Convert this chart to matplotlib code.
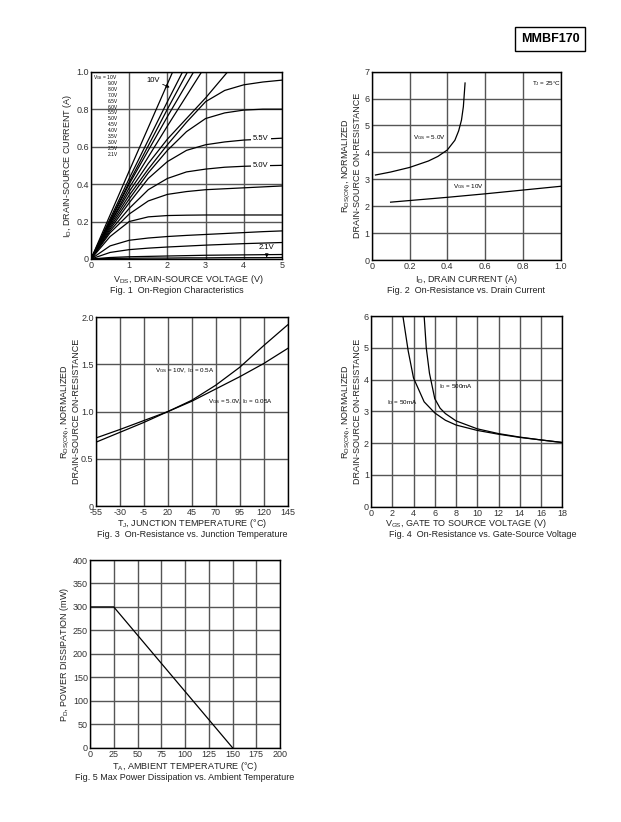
import matplotlib
matplotlib.use('Agg')
import matplotlib.pyplot as plt

plt.rcParams['font.family'] = ['Liberation Sans', 'DejaVu Sans']
plt.rcParams['mathtext.default'] = 'regular'
plt.rcParams['axes.unicode_minus'] = False

W, H = 621, 822

# ---- Fig 1 data: on-region characteristics (VDS, ID) per curve ----
vgs_legend = ["10V", "9.0V", "8.0V", "7.0V", "6.5V", "6.0V", "5.5V", "5.0V",
              "4.5V", "4.0V", "3.5V", "3.0V", "2.5V", "2.1V"]
fig1_vds = [
    [0, 1.0, 2.0, 2.14],
    [0, 1.0, 2.0, 2.40],
    [0, 1.0, 2.0, 2.53],
    [0, 1.0, 2.0, 2.69],
    [0, 1.0, 2.0, 2.90],
    [0, 0.5, 1.0, 1.5, 2.0, 2.5, 3.0, 3.58],
    [0, 0.5, 1.0, 1.5, 2.0, 2.5, 3.0, 3.5, 4.0, 4.5, 5.0],
    [0, 0.5, 1.0, 1.5, 2.0, 2.5, 3.0, 3.5, 4.0, 4.5, 5.0],
    [0, 0.5, 1.0, 1.5, 2.0, 2.5, 3.0, 3.5, 4.0, 4.5, 5.0],
    [0, 0.5, 1.0, 1.5, 2.0, 2.5, 3.0, 3.5, 4.0, 4.5, 5.0],
    [0, 0.5, 1.0, 1.5, 2.0, 2.5, 3.0, 3.5, 4.0, 4.5, 5.0],
    [0, 0.5, 1.0, 1.5, 2.0, 2.5, 3.0, 3.5, 4.0, 4.5, 5.0],
    [0, 0.5, 1.0, 1.5, 2.0, 2.5, 3.0, 3.5, 4.0, 4.5, 5.0],
    [0, 0.5, 1.0, 1.5, 2.0, 2.5, 3.0, 3.5, 4.0, 4.5, 5.0],
    [0, 0.5, 1.0, 1.5, 2.0, 2.5, 3.0, 3.5, 4.0, 4.5, 5.0],
    [0, 0.5, 1.0, 1.5, 2.0, 2.5, 3.0, 3.5, 4.0, 4.5, 5.0],
]
fig1_id = [
    [0, 0.47, 0.935, 1.0],
    [0, 0.43, 0.84, 1.0],
    [0, 0.41, 0.80, 1.0],
    [0, 0.40, 0.76, 1.0],
    [0, 0.38, 0.71, 1.0],
    [0, 0.19, 0.36, 0.51, 0.64, 0.75, 0.86, 1.0],
    [0, 0.18, 0.34, 0.48, 0.61, 0.73, 0.84, 0.90, 0.93, 0.945, 0.955],
    [0, 0.17, 0.32, 0.46, 0.58, 0.68, 0.75, 0.78, 0.795, 0.80, 0.80],
    [0, 0.16, 0.30, 0.43, 0.52, 0.58, 0.61, 0.625, 0.635, 0.64, 0.645],
    [0, 0.15, 0.27, 0.37, 0.43, 0.465, 0.48, 0.49, 0.495, 0.498, 0.50],
    [0, 0.14, 0.24, 0.31, 0.345, 0.36, 0.37, 0.375, 0.38, 0.385, 0.39],
    [0, 0.12, 0.20, 0.225, 0.232, 0.234, 0.235, 0.235, 0.235, 0.235, 0.235],
    [0, 0.07, 0.10, 0.112, 0.12, 0.126, 0.131, 0.136, 0.141, 0.146, 0.15],
    [0, 0.035, 0.05, 0.058, 0.064, 0.069, 0.074, 0.078, 0.082, 0.085, 0.088],
    [0, 0.008, 0.012, 0.014, 0.016, 0.018, 0.020, 0.021, 0.022, 0.023, 0.024],
    [0, 0.003, 0.004, 0.005, 0.005, 0.006, 0.006, 0.007, 0.007, 0.007, 0.008],
]

# ---- Fig 2 data: on-resistance vs drain current ----
fig2_id_5v = [0.02, 0.1, 0.2, 0.3, 0.35, 0.4, 0.44, 0.46, 0.475, 0.485, 0.494]
fig2_r_5v = [3.16, 3.27, 3.44, 3.68, 3.85, 4.09, 4.45, 4.8, 5.2, 5.7, 6.58]
fig2_id_10v = [0.1, 0.4, 0.6, 0.8, 1.0]
fig2_r_10v = [2.15, 2.33, 2.46, 2.6, 2.74]

# ---- Fig 3 data: on-resistance vs junction temperature ----
fig3_tj = [-55, -30, -5, 20, 45, 70, 95, 120, 145]
fig3_r_10v = [0.675, 0.78, 0.885, 1.0, 1.12, 1.28, 1.47, 1.70, 1.92]
fig3_r_5v = [0.72, 0.81, 0.905, 1.0, 1.11, 1.24, 1.37, 1.51, 1.67]

# ---- Fig 4 data: on-resistance vs gate-source voltage ----
fig4_vgs_50 = [3.0, 3.5, 4.0, 5.0, 6.0, 7.0, 8.0, 10, 12, 14, 16, 18]
fig4_r_50 = [6.0, 4.9, 4.05, 3.3, 2.95, 2.72, 2.57, 2.4, 2.28, 2.18, 2.1, 2.02]
fig4_vgs_500 = [5.0, 5.2, 5.5, 6.0, 6.5, 7.0, 8.0, 10, 12, 14, 16, 18]
fig4_r_500 = [6.0, 5.0, 4.2, 3.4, 3.1, 2.93, 2.7, 2.45, 2.3, 2.19, 2.1, 2.02]

# ---- Fig 5 data: power derating ----
fig5_ta = [0, 25, 150]
fig5_pd = [300, 300, 0]


def add_axes(l, t, r, b):
    return fig.add_axes([l / W, 1 - b / H, (r - l) / W, (b - t) / H])


def style(ax, xticks, yticks, xlabels=None, ylabels=None):
    ax.set_xticks(xticks)
    ax.set_yticks(yticks)
    if xlabels:
        ax.set_xticklabels(xlabels)
    if ylabels:
        ax.set_yticklabels(ylabels)
    ax.set_xlim(xticks[0], xticks[-1])
    ax.set_ylim(yticks[0], yticks[-1])
    ax.grid(True, color='#555555', linewidth=1.0)
    ax.set_axisbelow(True)
    ax.tick_params(length=0, labelsize=6.5, colors='#333333')
    ax.tick_params(axis='x', pad=1.5)
    ax.tick_params(axis='y', pad=1.5)
    for s in ax.spines.values():
        s.set_linewidth(1.0)


def ftext(x, y, s, size=6.5):
    # text placed in page pixels (from top-left)
    fig.text(x / W, 1 - y / H, s, ha='center', va='center', fontsize=size, color='#222222')


fig = plt.figure(figsize=(W / 100, H / 100), dpi=100)

# title box
fig.text(550 / W, 1 - 39 / H, "MMBF170", ha='center', va='center', fontsize=9,
         fontweight='bold', bbox=dict(boxstyle='square,pad=0.45', fc='white', ec='black', lw=1.0))

lw = 0.9
rds_label = "$R_{DS(ON)}$, NORMALIZED\nDRAIN-SOURCE ON-RESISTANCE"

# Fig 1
ax1 = add_axes(91, 71.7, 282, 259)
style(ax1, [0, 1, 2, 3, 4, 5], [0, 0.2, 0.4, 0.6, 0.8, 1.0],
      ylabels=["0", "0.2", "0.4", "0.6", "0.8", "1.0"])
for v, i in zip(fig1_vds, fig1_id):
    ax1.plot(v, i, color='black', lw=lw)
ax1.text(0.70, 0.99, "$V_{GS}$ = " + vgs_legend[0], ha='right', va='top', fontsize=3.5)
for k, lab in enumerate(vgs_legend[1:]):
    ax1.text(0.70, 0.982 - (k + 1) * 0.0315, lab, ha='right', va='top', fontsize=3.5)
ax1.annotate("10V", xy=(2.06, 0.916), xytext=(1.45, 0.955), fontsize=5.5, va='center',
             arrowprops=dict(arrowstyle='-|>', lw=0.6, color='black', mutation_scale=5,
                             shrinkA=0, shrinkB=0))
ax1.text(4.45, 0.643, "5.5V", ha='center', va='center', fontsize=5.5,
         bbox=dict(fc='white', ec='none', pad=1.2))
ax1.text(4.45, 0.499, "5.0V", ha='center', va='center', fontsize=5.5,
         bbox=dict(fc='white', ec='none', pad=1.2))
ax1.annotate("2.1V", xy=(4.6, 0.008), xytext=(4.6, 0.06), fontsize=5.5, ha='center', va='center',
             arrowprops=dict(arrowstyle='-|>', lw=0.6, color='black', mutation_scale=5,
                             shrinkA=3, shrinkB=0))
ftext(188, 279, "$V_{DS}$, DRAIN-SOURCE VOLTAGE (V)")
ax1.set_ylabel("$I_D$, DRAIN-SOURCE CURRENT (A)", fontsize=6.5, labelpad=2, color='#222222')
ftext(177, 290.5, "Fig. 1  On-Region Characteristics")

# Fig 2
ax2 = add_axes(371.7, 71.7, 560.7, 260)
style(ax2, [0, 0.2, 0.4, 0.6, 0.8, 1.0], [0, 1, 2, 3, 4, 5, 6, 7],
      xlabels=["0", "0.2", "0.4", "0.6", "0.8", "1.0"])
ax2.plot(fig2_id_5v, fig2_r_5v, color='black', lw=lw)
ax2.plot(fig2_id_10v, fig2_r_10v, color='black', lw=lw)
ax2.text(0.22, 4.56, "$V_{GS}$ = 5.0V", fontsize=4.5, va='center')
ax2.text(0.43, 2.74, "$V_{GS}$ = 10V", fontsize=4.5, va='center')
ax2.text(0.85, 6.57, "$T_J$ = 25°C", fontsize=4.5, va='center')
ftext(466, 279, "$I_D$, DRAIN CURRENT (A)")
ax2.set_ylabel(rds_label, fontsize=6.5, labelpad=1.5, color='#222222', linespacing=1.0)
ftext(466, 290.5, "Fig. 2  On-Resistance vs. Drain Current")

# Fig 3
ax3 = add_axes(95.7, 317.3, 287.7, 506)
style(ax3, fig3_tj, [0, 0.5, 1.0, 1.5, 2.0], ylabels=["0", "0.5", "1.0", "1.5", "2.0"])
ax3.plot(fig3_tj, fig3_r_10v, color='black', lw=lw)
ax3.plot(fig3_tj, fig3_r_5v, color='black', lw=lw)
ax3.text(6.8, 1.44, "$V_{GS}$ = 10V, $I_D$ = 0.5A", fontsize=4.5, va='center')
ax3.text(62, 1.105, "$V_{GS}$ = 5.0V, $I_D$ = 0.05A", fontsize=4.5, va='center')
ftext(192, 523, "$T_J$, JUNCTION TEMPERATURE (°C)")
ax3.set_ylabel(rds_label, fontsize=6.5, labelpad=0, color='#222222', linespacing=1.0)
ftext(192, 534.5, "Fig. 3  On-Resistance vs. Junction Temperature")

# Fig 4
ax4 = add_axes(371, 316, 562.3, 506.7)
style(ax4, list(range(0, 19, 2)), [0, 1, 2, 3, 4, 5, 6])
ax4.plot(fig4_vgs_50, fig4_r_50, color='black', lw=lw)
ax4.plot(fig4_vgs_500, fig4_r_500, color='black', lw=lw)
ax4.text(6.4, 3.78, "$I_D$ = 500mA", fontsize=4.5, va='center')
ax4.text(1.54, 3.27, "$I_D$ = 50mA", fontsize=4.5, va='center')
ftext(466, 523, "$V_{GS}$, GATE TO SOURCE VOLTAGE (V)")
ax4.set_ylabel(rds_label, fontsize=6.5, labelpad=1.5, color='#222222', linespacing=1.0)
ftext(483, 534.5, "Fig. 4  On-Resistance vs. Gate-Source Voltage")

# Fig 5
ax5 = add_axes(90, 560, 280, 747.7)
style(ax5, list(range(0, 201, 25)), list(range(0, 401, 50)))
ax5.plot(fig5_ta, fig5_pd, color='black', lw=lw)
ftext(185, 766, "$T_A$, AMBIENT TEMPERATURE (°C)")
ax5.set_ylabel("$P_D$, POWER DISSIPATION (mW)", fontsize=6.5, labelpad=1.5, color='#222222')
ftext(185, 777.5, "Fig. 5 Max Power Dissipation vs. Ambient Temperature")

fig.savefig("out.png", dpi=100)
